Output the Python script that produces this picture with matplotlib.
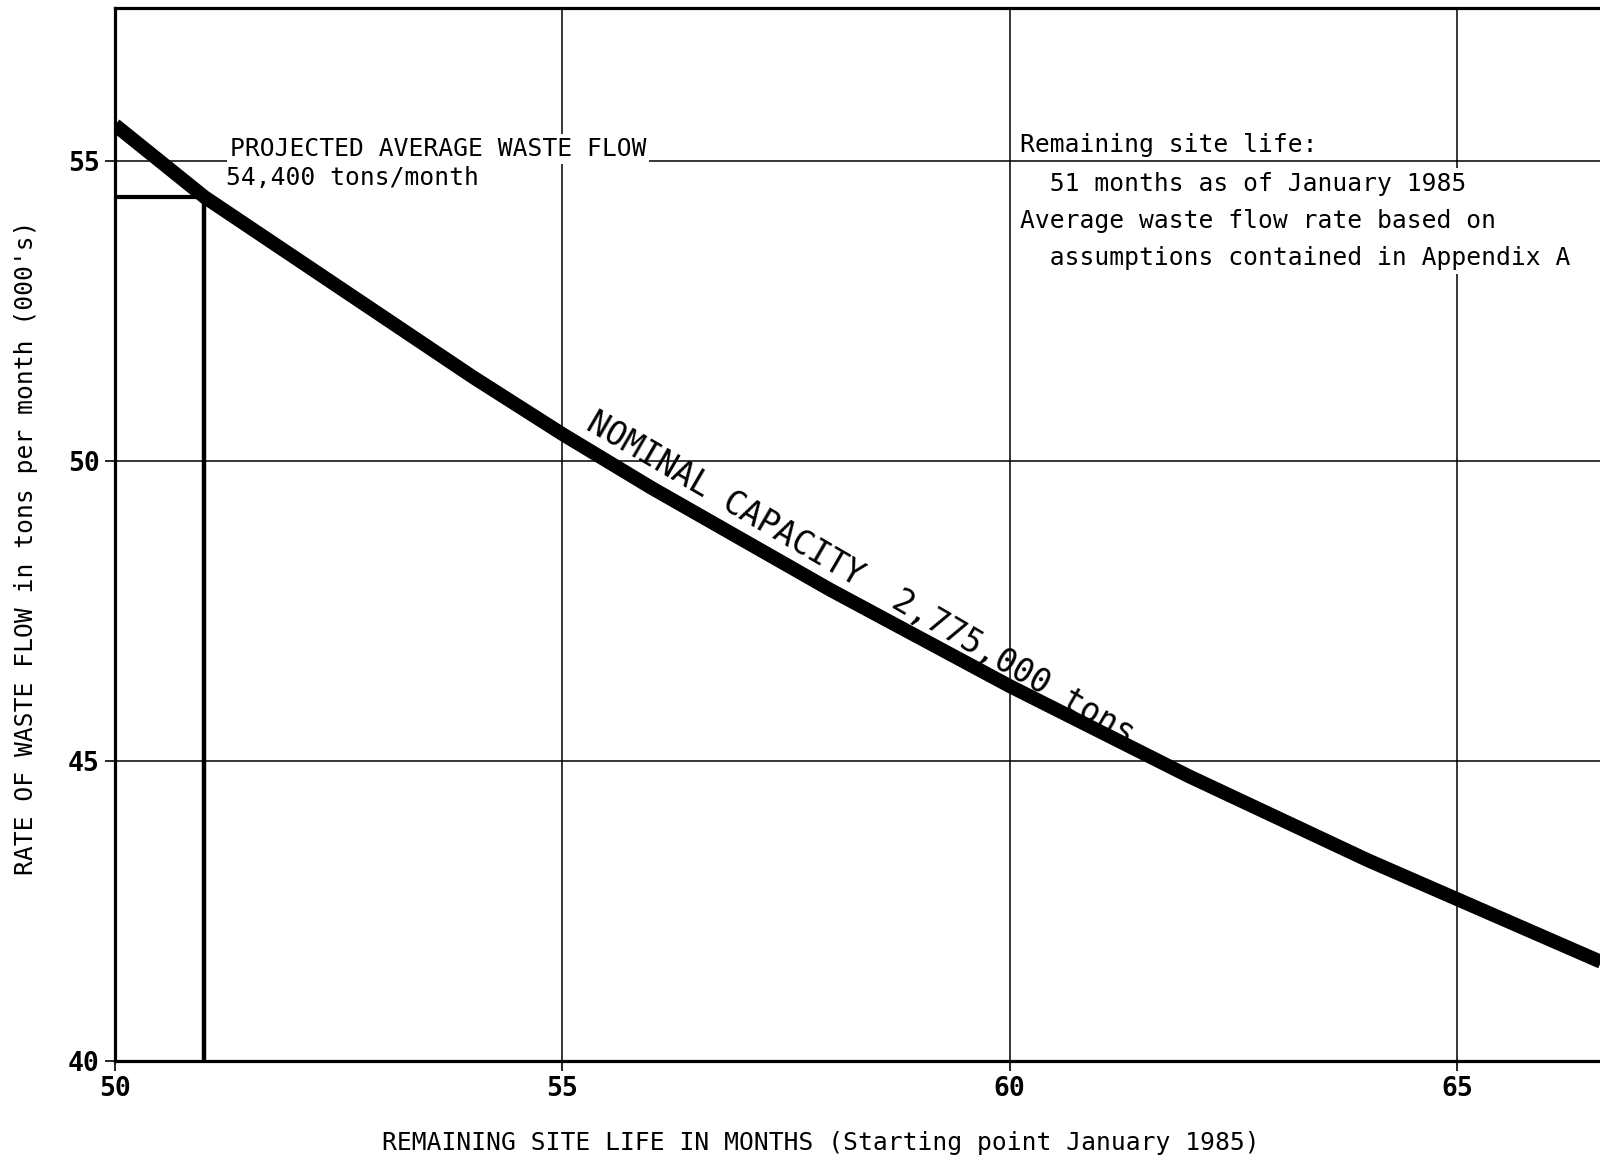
import matplotlib
matplotlib.use("Agg")
import matplotlib.pyplot as plt

# remaining site life (months) vs. rate of waste flow (000's tons / month)
months = [50, 51, 52, 53, 54, 55, 56, 57, 58, 59, 60, 61, 62, 63, 64, 65, 66, 67]
rate = [55.6, 54.4, 53.4, 52.4, 51.4, 50.45, 49.55, 48.7, 47.85, 47.05,
        46.25, 45.5, 44.75, 44.05, 43.35, 42.7, 42.05, 41.4]

proj_months = 51
proj_rate = 54.4

xticks = [50, 55, 60, 65]
yticks = [40, 45, 50, 55]

MONO = "DejaVu Sans Mono"
FS = 17.7

fig = plt.figure(figsize=(16, 11.61), dpi=100)
ax = fig.add_axes([0.0719, 0.0861, 0.9281, 0.907])
ax.set_xlim(50, 66.6)
ax.set_ylim(40, 57.55)

for s in ("left", "bottom", "top"):
    ax.spines[s].set_linewidth(2.3)
ax.spines["right"].set_visible(False)

ax.set_xticks(xticks)
ax.set_yticks(yticks)
ax.tick_params(direction="out", length=7, width=1.2, pad=4)
for lab in ax.get_xticklabels() + ax.get_yticklabels():
    lab.set_fontsize(19)
    lab.set_fontweight("bold")
    lab.set_family(MONO)
ax.grid(True, color="black", lw=1.1, zorder=1)
ax.set_axisbelow(True)

# nominal capacity curve
ax.plot(months, rate, color="black", lw=10, solid_capstyle="butt", zorder=4)

# projected average waste flow markers
ax.plot([50, proj_months], [proj_rate, proj_rate], color="black", lw=3, zorder=3)
ax.plot([proj_months, proj_months], [40, proj_rate], color="black", lw=3.2, zorder=3)

box = dict(facecolor="white", edgecolor="none", pad=2)
ax.text(51.28, 55.2, "PROJECTED AVERAGE WASTE FLOW", fontsize=FS, family=MONO,
        ha="left", va="center", bbox=box, zorder=5)
ax.text(51.24, 54.71, "54,400 tons/month", fontsize=FS, family=MONO,
        ha="left", va="center", zorder=5)

ax.text(60.12, 55.27, "Remaining site life:", fontsize=FS, family=MONO,
        ha="left", va="center", bbox=box, zorder=5)
ax.text(60.12, 54.0,
        "  51 months as of January 1985\n"
        "Average waste flow rate based on\n"
        "  assumptions contained in Appendix A",
        fontsize=FS, family=MONO, ha="left", va="center", linespacing=1.66,
        bbox=dict(facecolor="white", edgecolor="none", pad=3), zorder=5)

ax.text(58.33, 48.05, "NOMINAL CAPACITY  2,775,000 tons", fontsize=23.5,
        family=MONO, rotation=-30.2, rotation_mode="anchor", ha="center",
        va="center", zorder=5)

fig.text(0.016, 0.528, "RATE OF WASTE FLOW in tons per month (000's)",
         rotation=90, fontsize=FS, family=MONO, ha="center", va="center")
fig.text(0.513, 0.0158,
         "REMAINING SITE LIFE IN MONTHS (Starting point January 1985)",
         fontsize=FS, family=MONO, ha="center", va="center")

fig.savefig("out.png", dpi=100)
